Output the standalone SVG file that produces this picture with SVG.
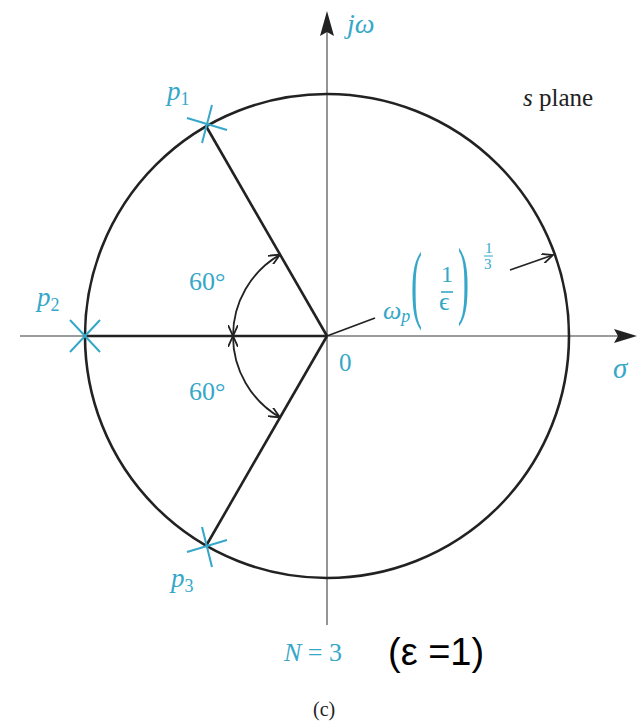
<svg xmlns="http://www.w3.org/2000/svg" width="638" height="723" viewBox="0 0 638 723">
<defs>
<style>
.cy{fill:#35a7c8}
.it{font-style:italic}
.bk{fill:#222}
.ax{stroke:#7a7a7a;stroke-width:1.6;fill:none}
.ln{stroke:#222;stroke-width:2.6;fill:none}
.th{stroke:#222;stroke-width:1.8;fill:none}
.pole{stroke:#35a7c8;stroke-width:2;fill:none}
</style>
<marker id="open" viewBox="0 0 12 10" refX="11" refY="5" markerWidth="12" markerHeight="10" markerUnits="userSpaceOnUse" orient="auto-start-reverse">
<path d="M0,0 L11,5 L0,10" fill="none" stroke="#222" stroke-width="1.8"/>
</marker>
</defs>
<rect width="638" height="723" fill="#fff"/>
<g id="axes">
<line class="ax" x1="20" y1="336" x2="620" y2="336"/>
<polygon points="637,336 614,329 618,336 614,343" fill="#222"/>
<line class="ax" x1="327" y1="32" x2="327" y2="625"/>
<polygon points="327,11 320,36 327,32 334,36" fill="#222"/>
</g>
<g id="circle">
<circle cx="327" cy="336" r="242" class="ln"/>
</g>
<g id="connectors">
<line class="ln" x1="206" y1="126" x2="327" y2="336"/>
<line class="ln" x1="206" y1="546" x2="327" y2="336"/>
<line class="ln" x1="85" y1="336" x2="327" y2="336" stroke-width="2"/>
<path class="th" d="M233,336 A94,94 0 0 1 280,254.6" marker-start="url(#open)" marker-end="url(#open)"/>
<path class="th" d="M233,336 A94,94 0 0 0 280,417.4" marker-start="url(#open)" marker-end="url(#open)"/>
<line class="th" x1="327" y1="336" x2="375" y2="318"/>
<line class="th" x1="510" y1="270" x2="553" y2="255" marker-end="url(#open)"/>
</g>
<g font-family="'Liberation Serif', 'Times New Roman', serif">
<g id="p1">
<line class="pole" x1="187" y1="118" x2="227" y2="130"/>
<line class="pole" x1="202" y1="143" x2="212" y2="105"/>
<text class="cy it" x="167" y="100" font-size="27">p<tspan font-style="normal" font-size="18" dy="5">1</tspan></text>
</g>
<g id="p2">
<line class="pole" x1="70" y1="352" x2="100" y2="320"/>
<line class="pole" x1="70" y1="320" x2="100" y2="352"/>
<text class="cy it" x="37" y="306" font-size="27">p<tspan font-style="normal" font-size="18" dy="5">2</tspan></text>
</g>
<g id="p3">
<line class="pole" x1="187" y1="552" x2="227" y2="540"/>
<line class="pole" x1="202" y1="527" x2="212" y2="567"/>
<text class="cy it" x="171" y="587" font-size="27">p<tspan font-style="normal" font-size="18" dy="5">3</tspan></text>
</g>
<g id="labels">
<text class="cy it" x="347" y="33" font-size="28">jω</text>
<text class="bk" x="523" y="106" font-size="25"><tspan font-style="italic">s</tspan> plane</text>
<text class="cy" x="189" y="290" font-size="26">60°</text>
<text class="cy" x="189" y="400" font-size="26">60°</text>
<text class="cy" x="339" y="371" font-size="25">0</text>
<text class="cy it" x="613" y="378" font-size="29">σ</text>
<text class="cy it" x="383" y="319" font-size="26">ω<tspan font-size="18" dy="3">p</tspan></text>
<text class="cy" font-size="60" transform="translate(411,312) scale(0.55,1.45)">(</text>
<text class="cy" font-size="60" transform="translate(458,308) scale(0.55,1.45)">)</text>
<text class="cy" x="441" y="282" font-size="24">1</text>
<line x1="441" y1="292" x2="453" y2="292" stroke="#35a7c8" stroke-width="1.6"/>
<text class="cy" x="439" y="310" font-size="26">ϵ</text>
<text class="cy" x="485" y="253" font-size="15">1</text>
<line x1="484" y1="256" x2="493" y2="256" stroke="#35a7c8" stroke-width="1"/>
<text class="cy" x="484" y="269" font-size="15">3</text>
<text class="cy" x="284" y="661" font-size="26"><tspan font-style="italic">N</tspan> = 3</text>
<text class="bk" x="313" y="716" font-size="20">(c)</text>
</g>
</g>
<text x="388" y="665" font-size="38" font-family="'Liberation Sans', Arial, sans-serif" fill="#000">(ε =1)</text>
</svg>
